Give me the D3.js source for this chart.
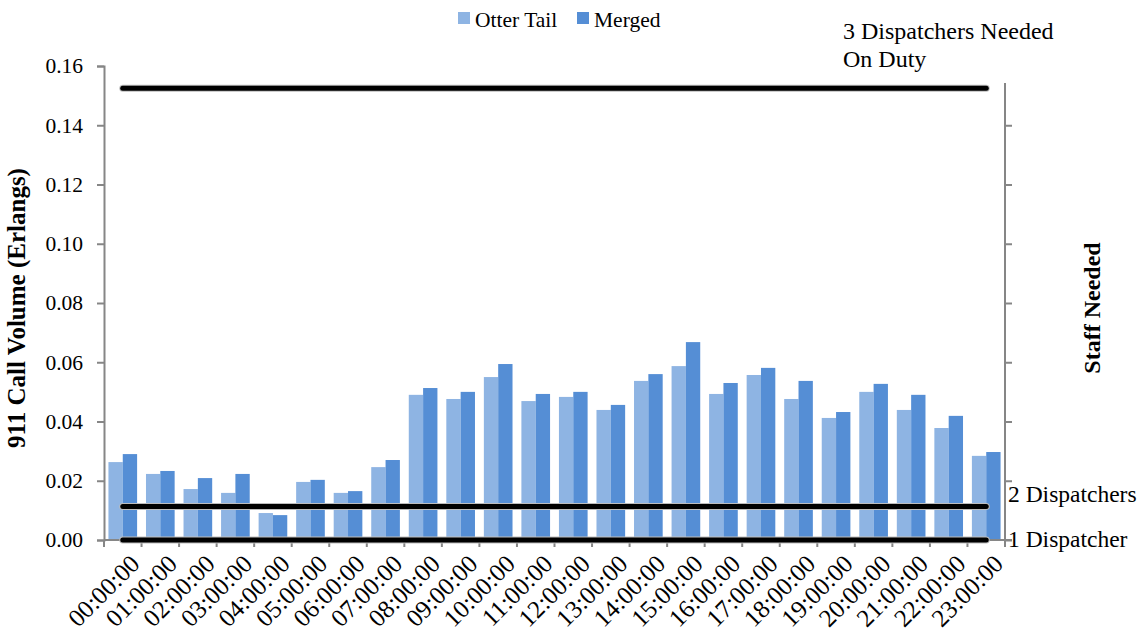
<!DOCTYPE html>
<html>
<head>
<meta charset="utf-8">
<script src="https://cdn.jsdelivr.net/npm/d3@7"></script>
<style>
  body { margin: 0; background: #fff; }
  svg { display: block; }
  svg text { font-family: "Liberation Serif", "Times New Roman", serif; fill: #000; }
</style>
</head>
<body>
<svg id="chart" width="1145" height="642"></svg>
<script>
// Hourly 911 call volume in Erlangs
const hours = ["00:00:00","01:00:00","02:00:00","03:00:00","04:00:00","05:00:00",
  "06:00:00","07:00:00","08:00:00","09:00:00","10:00:00","11:00:00",
  "12:00:00","13:00:00","14:00:00","15:00:00","16:00:00","17:00:00",
  "18:00:00","19:00:00","20:00:00","21:00:00","22:00:00","23:00:00"];
const otterTail = [0.0263,0.0223,0.0172,0.0159,0.0091,0.0196,0.0159,0.0246,
  0.0490,0.0476,0.0550,0.0469,0.0483,0.0439,0.0537,0.0587,
  0.0493,0.0557,0.0476,0.0412,0.0500,0.0439,0.0378,0.0284];
const merged = [0.0290,0.0233,0.0209,0.0223,0.0084,0.0203,0.0165,0.0270,
  0.0513,0.0500,0.0594,0.0493,0.0500,0.0456,0.0560,0.0668,
  0.0530,0.0581,0.0537,0.0432,0.0527,0.0490,0.0419,0.0297];
const seriesNames = ["Otter Tail", "Merged"];
const seriesColors = ["#8EB4E3", "#558ED5"];
// Staffing thresholds (call volume at which each staffing level applies)
const staffLevels = [0, 0.0113, 0.1525];
const yTicks = [0, 0.02, 0.04, 0.06, 0.08, 0.10, 0.12, 0.14, 0.16];

const svg = d3.select("#chart");
const plotLeft = 104, plotRight = 1005, plotTop = 66, plotBottom = 540;
const axisColor = "#868686";

const x = d3.scaleBand().domain(hours).range([plotLeft, plotRight]).paddingInner(0).paddingOuter(0);
const inner = d3.scaleBand().domain(seriesNames).range([0, x.bandwidth()]).paddingInner(0).paddingOuter(0.31);
const y = d3.scaleLinear().domain([0, 0.16]).range([plotBottom, plotTop]);

// bars
const rows = hours.map((h, i) => ({ h, vals: [otterTail[i], merged[i]] }));
const groups = svg.append("g").selectAll("g").data(rows).join("g")
  .attr("transform", d => `translate(${x(d.h)},0)`);
groups.selectAll("rect").data(d => d.vals.map((v, k) => ({ v, k })))
  .join("rect")
  .attr("x", d => inner(seriesNames[d.k]))
  .attr("width", inner.bandwidth())
  .attr("y", d => y(d.v))
  .attr("height", d => y(0) - y(d.v))
  .attr("fill", d => seriesColors[d.k]);

// left axis
const yAxis = svg.append("g").attr("transform", `translate(${plotLeft},0)`)
  .call(d3.axisLeft(y).tickValues(yTicks).tickFormat(d3.format(".2f")).tickSize(7).tickPadding(14));
yAxis.select(".domain").attr("stroke", axisColor).attr("stroke-width", 2);
yAxis.selectAll(".tick line").attr("stroke", axisColor).attr("stroke-width", 2);
yAxis.selectAll(".tick text").attr("font-size", 21.5);

// right axis
const yRight = d3.scaleLinear().domain([0, 0.16]).range([plotBottom, plotTop]);
const rAxis = svg.append("g").attr("transform", `translate(${plotRight},0)`)
  .call(d3.axisRight(yRight).tickValues(yTicks.slice(0, 8)).tickFormat("").tickSize(7).tickSizeOuter(0));
rAxis.select(".domain").attr("stroke", axisColor).attr("stroke-width", 2)
  .attr("d", `M0,${y(0.1543)}V${plotBottom}`);
rAxis.selectAll(".tick line").attr("stroke", axisColor).attr("stroke-width", 2);

// bottom axis with ticks at category boundaries
const xAxisG = svg.append("g").attr("transform", `translate(0,${plotBottom})`);
xAxisG.append("line").attr("x1", plotLeft).attr("x2", plotRight + 7).attr("y1", 0).attr("y2", 0)
  .attr("stroke", axisColor).attr("stroke-width", 2);
const bounds = hours.map(h => x(h)).concat([plotRight]);
xAxisG.selectAll("line.tk").data(bounds).join("line").attr("class", "tk")
  .attr("x1", d => d).attr("x2", d => d).attr("y1", 0).attr("y2", 7)
  .attr("stroke", axisColor).attr("stroke-width", 2);
xAxisG.selectAll("text").data(hours).join("text")
  .attr("transform", d => `translate(${x(d) + x.bandwidth() / 2 + 6},${13}) rotate(-45)`)
  .attr("text-anchor", "end")
  .attr("dy", "0.7em")
  .attr("font-size", 25)
  .text(d => d);

// staffing threshold lines
const line = d3.line().x(d => x(d) + x.bandwidth() / 2);
staffLevels.forEach(v => {
  const pts = [hours[0], hours[hours.length - 1]];
  const path = line.y(() => y(v))(pts);
  svg.append("path").attr("d", path).attr("stroke", "#bdbdbd").attr("stroke-width", 7)
    .attr("stroke-linecap", "round").attr("fill", "none");
  svg.append("path").attr("d", path).attr("stroke", "#000").attr("stroke-width", 5)
    .attr("stroke-linecap", "round").attr("fill", "none");
});

// staffing labels
svg.append("text").attr("x", 843).attr("y", 39).attr("font-size", 24).text("3 Dispatchers Needed");
svg.append("text").attr("x", 843).attr("y", 67).attr("font-size", 24).text("On Duty");
svg.append("text").attr("x", 1008).attr("y", 497).attr("font-size", 23.5)
  .attr("dominant-baseline", "middle").text("2 Dispatchers");
svg.append("text").attr("x", 1008).attr("y", 542).attr("font-size", 23.5)
  .attr("dominant-baseline", "middle").text("1 Dispatcher");

// axis titles
svg.append("text").attr("transform", `translate(25,${(plotTop + plotBottom) / 2 + 5}) rotate(-90)`)
  .attr("text-anchor", "middle").attr("font-weight", "bold").attr("font-size", 25)
  .text("911 Call Volume (Erlangs)");
svg.append("text").attr("transform", `translate(1100,${308}) rotate(-90)`)
  .attr("text-anchor", "middle").attr("font-weight", "bold").attr("font-size", 24)
  .text("Staff Needed");

// legend
const legend = svg.append("g");
const legendX = [458, 577];
seriesNames.forEach((name, k) => {
  legend.append("rect").attr("x", legendX[k]).attr("y", 12).attr("width", 12).attr("height", 12)
    .attr("fill", seriesColors[k]);
  legend.append("text").attr("x", legendX[k] + 17).attr("y", 27).attr("font-size", 21.5).text(name);
});
</script>
</body>
</html>
